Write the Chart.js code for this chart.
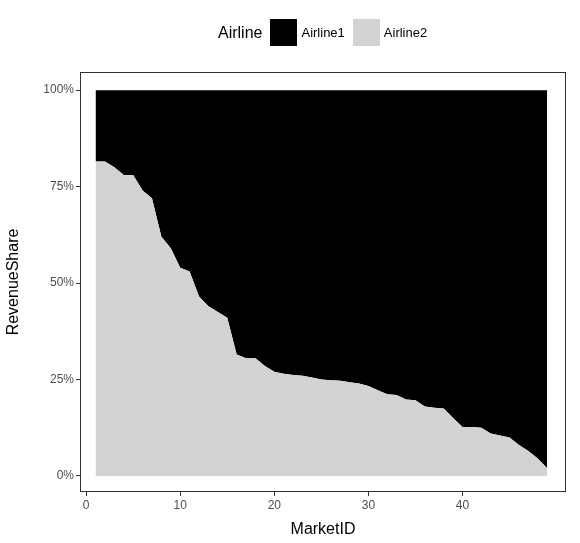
<!DOCTYPE html>
<html><head><meta charset="utf-8">
<script src="https://cdn.jsdelivr.net/npm/chart.js@4"></script>
<style>
body{margin:0;background:#fff;font-family:"Liberation Sans",Arial,sans-serif;}
#wrap{position:relative;width:580px;height:543px;}
#leg{position:absolute;top:19px;left:218px;display:flex;align-items:center;height:27px;font-size:13px;color:#000;}
.box{width:27px;height:27px;margin-right:4px;}
</style></head>
<body><div id="wrap">
<div id="leg"><span style="font-size:16px;margin-right:8px">Airline</span>
<div class="box" style="background:#000"></div><span style="margin-right:8px">Airline1</span>
<div class="box" style="background:#d3d3d3"></div><span>Airline2</span></div>
<canvas id="c" width="580" height="543"></canvas></div>
<script>
const marketIds = Array.from({length:49},(_, i)=>i+1);
const airline2 = [81.5,81.5,80,78,78,74,72,62,59,54,53,46.5,44,42.5,41,31.5,30.5,30.5,28.5,27,26.5,26.2,26,25.5,25,24.8,24.7,24.3,24,23.3,22.2,21.2,21,19.8,19.6,18,17.7,17.5,15,12.7,12.7,12.5,11,10.5,10,8,6.5,4.5,2];
const airline1 = airline2.map(v=>100-v);
const xTicks = [0,10,20,30,40];
const yTicks = [0,25,50,75,100];
const border = {id:'b',afterDraw(c){const a=c.chartArea,x=c.ctx;x.save();x.strokeStyle='#333';x.lineWidth=1;x.strokeRect(a.left+0.5,a.top+0.5,a.width-1,a.height-1);x.restore();}};
new Chart(document.getElementById('c'),{
 type:'line',
 data:{datasets:[
  {label:'Airline2',data:marketIds.map((m,i)=>({x:m,y:airline2[i]})),backgroundColor:'#d3d3d3',borderWidth:0,pointRadius:0,fill:'origin',tension:0,stack:'s'},
  {label:'Airline1',data:marketIds.map((m,i)=>({x:m,y:airline1[i]})),backgroundColor:'#000',borderWidth:0,pointRadius:0,fill:'-1',tension:0,stack:'s'}
 ]},
 options:{responsive:false,animation:false,
  layout:{padding:{top:72,right:14,left:0,bottom:0}},
  plugins:{legend:{display:false},tooltip:{enabled:false}},
  scales:{
   x:{type:'linear',min:-0.65,max:51,
    afterBuildTicks(s){s.ticks=xTicks.map(v=>({value:v}));},
    afterFit(s){s.height=51;},
    grid:{drawOnChartArea:false,tickLength:4,color:'#333'},border:{display:false},
    ticks:{color:'#4d4d4d',font:{size:12},padding:2},
    title:{display:true,text:'MarketID',color:'#000',font:{size:16},padding:{top:0}}},
   y:{stacked:true,min:-4.15,max:104.7,
    afterBuildTicks(s){s.ticks=yTicks.map(v=>({value:v}));},
    afterFit(s){s.width=80;},
    grid:{drawOnChartArea:false,tickLength:4,color:'#333'},border:{display:false},
    ticks:{color:'#4d4d4d',font:{size:12},padding:2,callback:v=>v+'%'},
    title:{display:true,text:'RevenueShare',color:'#000',font:{size:16},padding:{bottom:2}}}
  }},
 plugins:[border]
});
</script></body></html>
